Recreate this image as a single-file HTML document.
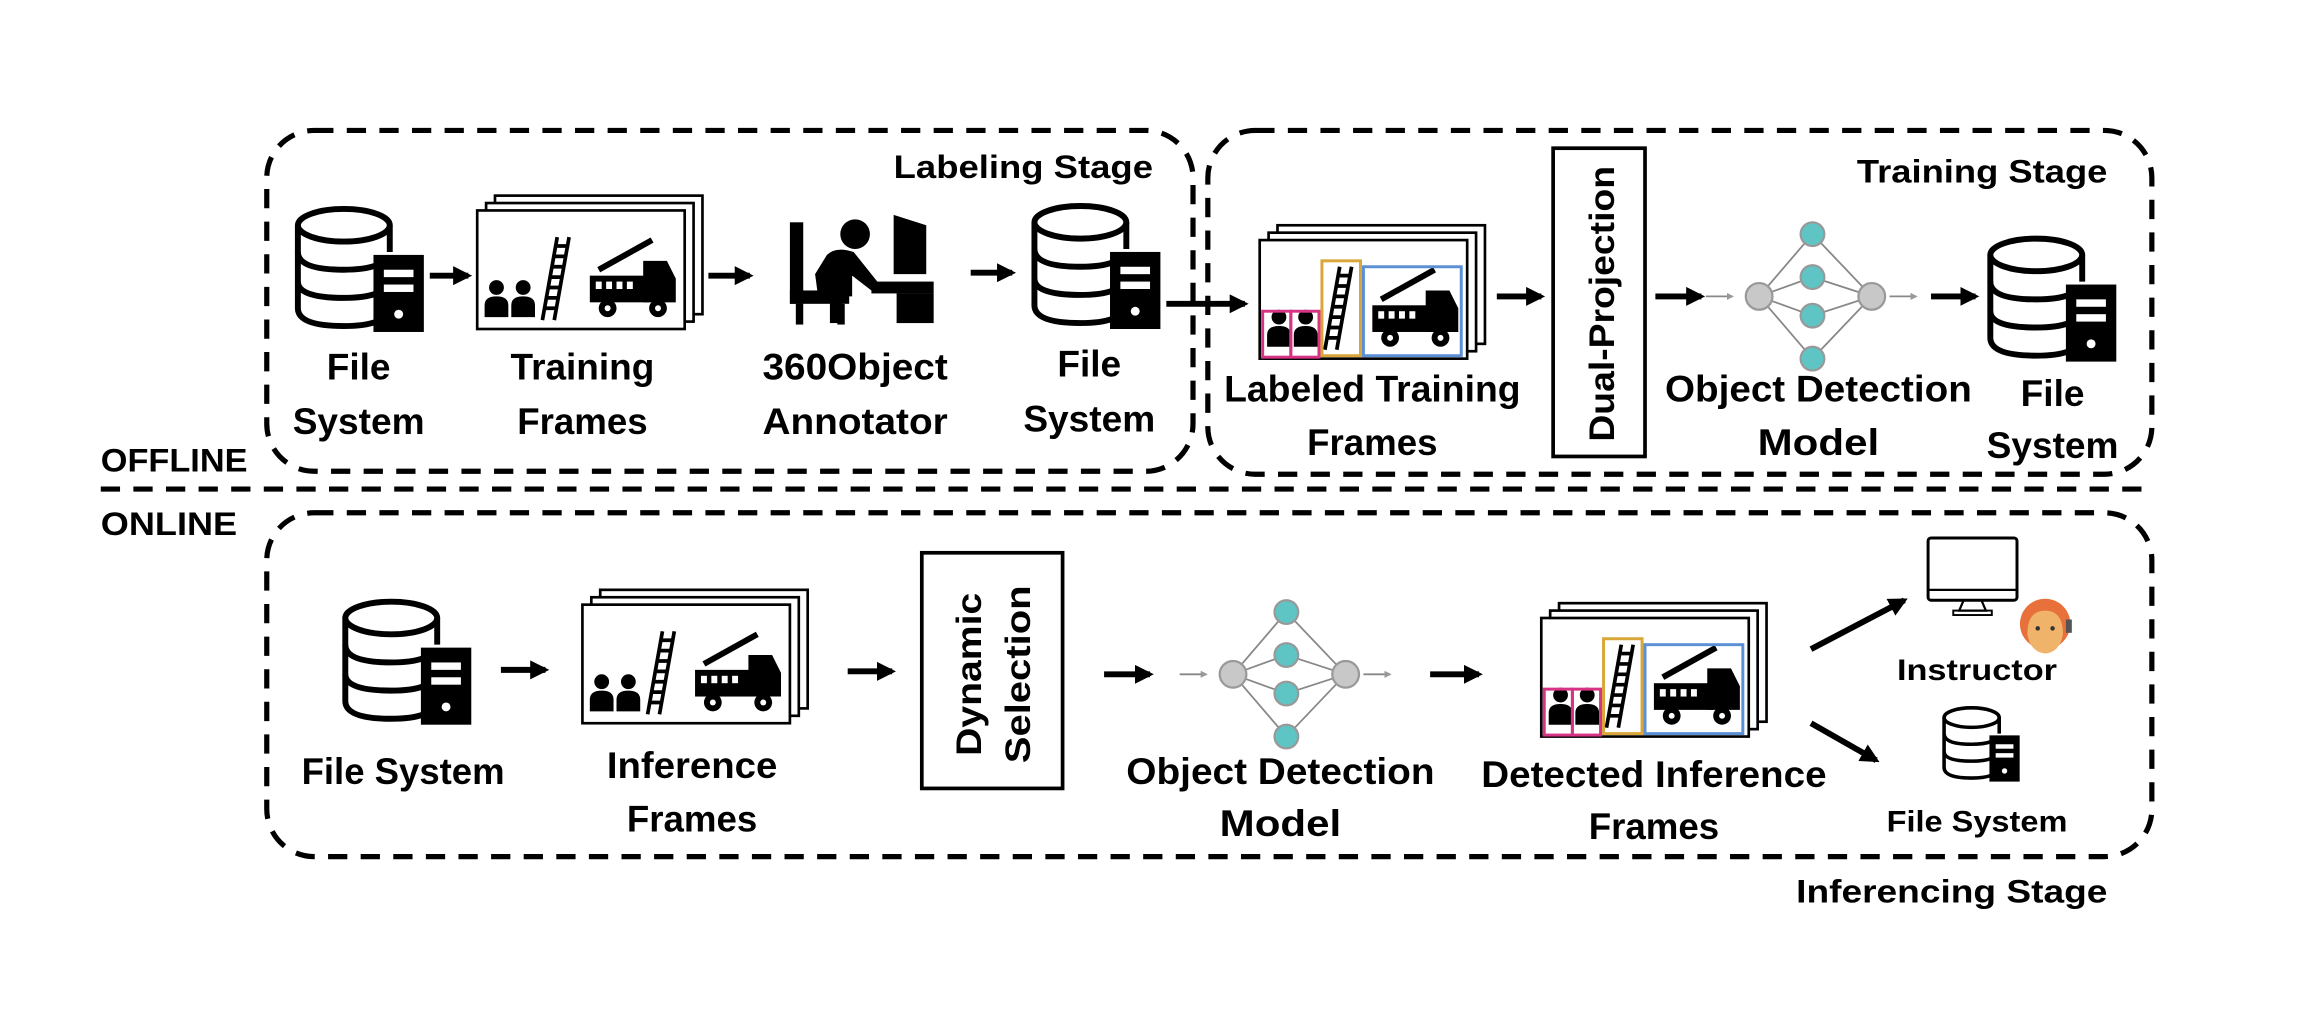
<!DOCTYPE html>
<html><head><meta charset="utf-8"><style>
html,body{margin:0;padding:0;background:#fff;width:2320px;height:1022px;overflow:hidden}
svg{display:block}
text{font-family:"Liberation Sans",sans-serif;font-weight:bold;fill:#000}
</style></head><body>
<svg width="2320" height="1022" viewBox="0 0 1546.67 681.33" xmlns="http://www.w3.org/2000/svg">
<defs>
<marker id="ah" viewBox="0 0 10 10" refX="8" refY="5" markerWidth="3.2" markerHeight="3.2" orient="auto"><path d="M0 0L10 5L0 10z" fill="#000"/></marker>
<marker id="ahg" viewBox="0 0 10 10" refX="8" refY="5" markerWidth="4" markerHeight="4" orient="auto"><path d="M0 0L10 5L0 10z" fill="#999"/></marker>
<g id="db">
<ellipse cx="34" cy="12" rx="31" ry="11" fill="none" stroke="#000" stroke-width="4"/>
<path d="M3 12V68Q3 80 34 80Q48 80 56 77" fill="none" stroke="#000" stroke-width="4"/>
<path d="M3 30Q3 42 34 42Q48 42 56 39M3 50Q3 61 34 61Q48 61 56 58M65 12V30" fill="none" stroke="#000" stroke-width="4"/>
<rect x="54" y="32" width="34" height="52" fill="#000"/>
<rect x="61" y="42" width="20" height="5" fill="#fff"/><rect x="61" y="52" width="20" height="5" fill="#fff"/>
<circle cx="71" cy="72" r="3" fill="#fff"/>
</g>
<g id="content">
<circle cx="13" cy="62" r="5" fill="#000"/><path d="M5 82V74Q5 68 13 68Q21 68 21 74V82z" fill="#000"/>
<circle cx="31" cy="62" r="5" fill="#000"/><path d="M23 82V74Q23 68 31 68Q39 68 39 74V82z" fill="#000"/>
<path d="M44 84L54 28M52 84L62 28" stroke="#000" stroke-width="2.5"/>
<path d="M46 76h8M47 69h8M48 62h8M50 55h8M51 48h8M52 41h8M54 34h8" stroke="#000" stroke-width="2.5"/>
<path d="M82 50L118 30" stroke="#000" stroke-width="4"/>
<rect x="76" y="54" width="40" height="18" fill="#000"/><path d="M112 72V44H128L134 56V72z" fill="#000"/>
<rect x="80" y="58" width="4" height="5" fill="#fff"/><rect x="87" y="58" width="4" height="5" fill="#fff"/><rect x="94" y="58" width="4" height="5" fill="#fff"/><rect x="101" y="58" width="4" height="5" fill="#fff"/>
<circle cx="88" cy="76" r="6" fill="#000"/><circle cx="122" cy="76" r="6" fill="#000"/>
<circle cx="88" cy="76" r="2" fill="#fff"/><circle cx="122" cy="76" r="2" fill="#fff"/>
</g>
<g id="stack">
<rect x="12" y="0" width="140" height="80" fill="#fff" stroke="#000" stroke-width="1.8"/>
<rect x="6" y="5" width="140" height="80" fill="#fff" stroke="#000" stroke-width="1.8"/>
<rect x="0" y="10" width="140" height="80" fill="#fff" stroke="#000" stroke-width="1.8"/>
<use href="#content"/>
</g>
<g id="boxes">
<rect x="2" y="58" width="19" height="31" fill="none" stroke="#d63384" stroke-width="2"/>
<rect x="21" y="58" width="19" height="31" fill="none" stroke="#d63384" stroke-width="2"/>
<rect x="42" y="24" width="26" height="64" fill="none" stroke="#d9a63a" stroke-width="2"/>
<rect x="70" y="28" width="66" height="60" fill="none" stroke="#5b8fd6" stroke-width="2"/>
</g>
<g id="nn">
<g stroke="#888" stroke-width="1.2" fill="none">
<path d="M12 45L48 3M12 45L48 32M12 45L48 58M12 45L48 87M88 45L48 3M88 45L48 32M88 45L48 58M88 45L48 87"/>
<path d="M-24 45H-6" marker-end="url(#ahg)"/><path d="M100 45H118" marker-end="url(#ahg)"/>
</g>
<circle cx="12" cy="45" r="9" fill="#c8c8c8" stroke="#999" stroke-width="1.5"/>
<circle cx="88" cy="45" r="9" fill="#c8c8c8" stroke="#999" stroke-width="1.5"/>
<circle cx="48" cy="3" r="8" fill="#5ec4c4" stroke="#999" stroke-width="1.5"/>
<circle cx="48" cy="32" r="8" fill="#5ec4c4" stroke="#999" stroke-width="1.5"/>
<circle cx="48" cy="58" r="8" fill="#5ec4c4" stroke="#999" stroke-width="1.5"/>
<circle cx="48" cy="87" r="8" fill="#5ec4c4" stroke="#999" stroke-width="1.5"/>
</g>
</defs>
<g transform="scale(0.988)">
<g fill="none" stroke="#000" stroke-width="3.5" stroke-dasharray="13 9">
<rect x="180" y="88" width="625" height="230" rx="32"/>
<rect x="815" y="88" width="637" height="232" rx="32"/>
<rect x="180" y="346" width="1272" height="232" rx="32"/>
<path d="M68 330H1452"/>
</g>

<text x="68" y="318" font-size="22" textLength="99" lengthAdjust="spacingAndGlyphs">OFFLINE</text>
<text x="68" y="361" font-size="22" textLength="92" lengthAdjust="spacingAndGlyphs">ONLINE</text>
<text x="603" y="120" font-size="22" textLength="175" lengthAdjust="spacingAndGlyphs">Labeling Stage</text>
<text x="1253" y="123" font-size="22" textLength="169" lengthAdjust="spacingAndGlyphs">Training Stage</text>
<text x="1212" y="609" font-size="22" textLength="210" lengthAdjust="spacingAndGlyphs">Inferencing Stage</text>

<use href="#db" transform="translate(198,140)"/>
<use href="#stack" transform="translate(322,132)"/>
<g fill="#000">
<rect x="533" y="150" width="9" height="55"/><rect x="533" y="196" width="40" height="9"/>
<rect x="537" y="205" width="5" height="14"/><rect x="565" y="205" width="5" height="14"/>
<circle cx="577" cy="158" r="10"/>
<path d="M558 172Q564 166 576 170L592 190L588 196L575 186L575 200L552 200L550 185z"/>
<rect x="560" y="196" width="8" height="22"/>
<rect x="588" y="190" width="42" height="8"/><rect x="605" y="198" width="25" height="20"/>
<path d="M603 145L625 152L625 185L603 185z"/>
</g>
<use href="#db" transform="translate(695,138)"/>
<use href="#stack" transform="translate(850,152)"/>
<use href="#boxes" transform="translate(850,152)"/>
<rect x="1048" y="100" width="62" height="208" fill="#fff" stroke="#000" stroke-width="2.5"/>
<text transform="translate(1089,298) rotate(-90)" font-size="24" textLength="186" lengthAdjust="spacingAndGlyphs">Dual-Projection</text>
<use href="#nn" transform="translate(1175,155)"/>
<use href="#db" transform="translate(1340,160)"/>

<g stroke="#000" stroke-width="4" marker-end="url(#ah)">
<path d="M290 186H316"/><path d="M478 186H506"/><path d="M655 184H683"/>
<path d="M787 205H840"/><path d="M1010 200H1040"/><path d="M1117 200H1148"/><path d="M1303 200H1333"/>
<path d="M338 452H368"/><path d="M572 453H602"/><path d="M745 455H776"/><path d="M965 455H998"/>
<path d="M1222 438L1285 405"/><path d="M1222 488L1266 513"/>
</g>

<g font-size="25" text-anchor="middle">
<text x="242" y="256">File</text><text x="242" y="293" textLength="89" lengthAdjust="spacingAndGlyphs">System</text>
<text x="393" y="256" textLength="97" lengthAdjust="spacingAndGlyphs">Training</text><text x="393" y="293" textLength="88" lengthAdjust="spacingAndGlyphs">Frames</text>
<text x="577" y="256" textLength="125" lengthAdjust="spacingAndGlyphs">360Object</text><text x="577" y="293" textLength="125" lengthAdjust="spacingAndGlyphs">Annotator</text>
<text x="735" y="254">File</text><text x="735" y="291" textLength="89" lengthAdjust="spacingAndGlyphs">System</text>
<text x="926" y="271" textLength="200" lengthAdjust="spacingAndGlyphs">Labeled Training</text><text x="926" y="307" textLength="88" lengthAdjust="spacingAndGlyphs">Frames</text>
<text x="1227" y="271" textLength="207" lengthAdjust="spacingAndGlyphs">Object Detection</text><text x="1227" y="307" textLength="82" lengthAdjust="spacingAndGlyphs">Model</text>
<text x="1385" y="274">File</text><text x="1385" y="309" textLength="89" lengthAdjust="spacingAndGlyphs">System</text>
</g>

<use href="#db" transform="translate(230,405)"/>
<use href="#stack" transform="translate(393,398)"/>
<rect x="622" y="373" width="95" height="159" fill="#fff" stroke="#000" stroke-width="2.5"/>
<text transform="translate(662,510) rotate(-90)" font-size="24" textLength="110" lengthAdjust="spacingAndGlyphs">Dynamic</text>
<text transform="translate(695,515) rotate(-90)" font-size="24" textLength="120" lengthAdjust="spacingAndGlyphs">Selection</text>
<use href="#nn" transform="translate(820,410)"/>
<use href="#stack" transform="translate(1040,407)"/>
<use href="#boxes" transform="translate(1040,407)"/>
<rect x="1301" y="363" width="60" height="42" rx="2" fill="none" stroke="#000" stroke-width="2"/>
<path d="M1301 398H1361" stroke="#000" stroke-width="1.5"/>
<path d="M1325 405L1322 412H1340L1337 405" fill="none" stroke="#000" stroke-width="1.5"/>
<rect x="1318" y="412" width="26" height="3" fill="none" stroke="#000" stroke-width="1.3"/>
<circle cx="1380" cy="421" r="17" fill="#e8703a"/>
<path d="M1368 428Q1368 412 1380 412Q1392 412 1392 428Q1390 440 1380 441Q1370 440 1368 428z" fill="#f0b36a"/>
<circle cx="1375" cy="424" r="1.5" fill="#333"/><circle cx="1385" cy="424" r="1.5" fill="#333"/>
<rect x="1394" y="418" width="4" height="9" fill="#555"/>
<use href="#db" transform="translate(1310,477) scale(0.6)"/>
<g font-size="25" text-anchor="middle">
<text x="272" y="529" textLength="137" lengthAdjust="spacingAndGlyphs">File System</text>
<text x="467" y="525" textLength="115" lengthAdjust="spacingAndGlyphs">Inference</text><text x="467" y="561" textLength="88" lengthAdjust="spacingAndGlyphs">Frames</text>
<text x="864" y="529" textLength="208" lengthAdjust="spacingAndGlyphs">Object Detection</text><text x="864" y="564" textLength="82" lengthAdjust="spacingAndGlyphs">Model</text>
<text x="1116" y="531" textLength="233" lengthAdjust="spacingAndGlyphs">Detected Inference</text><text x="1116" y="566" textLength="88" lengthAdjust="spacingAndGlyphs">Frames</text>
</g>
<g font-size="20" text-anchor="middle">
<text x="1334" y="459" textLength="108" lengthAdjust="spacingAndGlyphs">Instructor</text>
<text x="1334" y="561" textLength="122" lengthAdjust="spacingAndGlyphs">File System</text>
</g>
</g>
</svg>
</body></html>
